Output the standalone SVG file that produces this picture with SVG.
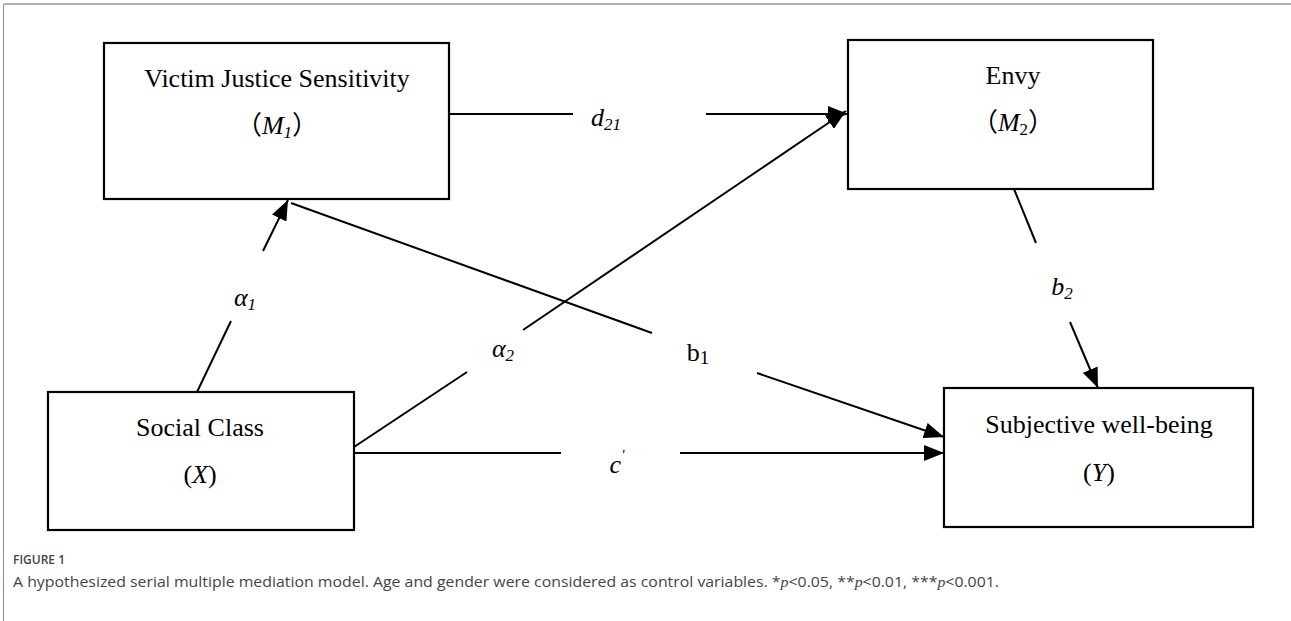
<svg xmlns="http://www.w3.org/2000/svg" width="1291" height="621" viewBox="0 0 1291 621">
<defs>
<marker id="ah" markerUnits="userSpaceOnUse" markerWidth="22" markerHeight="16" refX="20" refY="8" orient="auto">
<path d="M0,0 L20,8 L0,16 Z" fill="#000"/>
</marker>
<style>
.box{fill:#fff;stroke:#000;stroke-width:2.2}
.t{font-family:"Liberation Serif","Noto Sans CJK SC",serif;font-size:26px;fill:#000;text-anchor:middle}
.i{font-style:italic}
.c{stroke:#000;stroke-width:2;fill:none}
.cap{font-family:"Open Sans","Liberation Sans",sans-serif;fill:#444}
</style>
</defs>
<rect x="0" y="0" width="1291" height="621" fill="#fff"/>
<line x1="3.5" y1="4" x2="1291" y2="4" stroke="#999" stroke-width="1.5"/>
<line x1="3.5" y1="4" x2="3.5" y2="621" stroke="#999" stroke-width="1.2"/>

<g id="connectors">
<line class="c" x1="449" y1="114" x2="573" y2="114"/>
<line class="c" x1="706" y1="114" x2="848" y2="114" marker-end="url(#ah)"/>
<line class="c" x1="197" y1="392" x2="231" y2="321"/>
<line class="c" x1="263" y1="251" x2="288" y2="200" marker-end="url(#ah)"/>
<line class="c" x1="354" y1="447" x2="467" y2="372"/>
<line class="c" x1="523" y1="330" x2="846" y2="111" marker-end="url(#ah)"/>
<line class="c" x1="291" y1="203" x2="652" y2="333"/>
<line class="c" x1="757" y1="373" x2="944" y2="437" marker-end="url(#ah)"/>
<line class="c" x1="1014" y1="189" x2="1036" y2="243"/>
<line class="c" x1="1070" y1="322" x2="1098" y2="388" marker-end="url(#ah)"/>
<line class="c" x1="354" y1="453" x2="561" y2="453"/>
<line class="c" x1="680" y1="453" x2="944" y2="453" marker-end="url(#ah)"/>
<text class="t i" x="606" y="126">d<tspan font-size="17" dy="4">21</tspan></text>
<text class="t i" x="245" y="306">α<tspan font-size="17" dy="4">1</tspan></text>
<text class="t i" x="503" y="357">α<tspan font-size="17" dy="4">2</tspan></text>
<text class="t" x="698" y="361">b<tspan font-size="19" dy="3">1</tspan></text>
<text class="t i" x="1062" y="295">b<tspan font-size="17" dy="4">2</tspan></text>
<text class="t i" x="617" y="473">c<tspan font-size="15" dy="-13">′</tspan></text>
</g>

<g id="node-m1">
<rect class="box" x="104" y="43" width="345" height="156"/>
<text class="t" x="277" y="87">Victim Justice Sensitivity</text>
<text class="t" x="277" y="134">（<tspan class="i">M</tspan><tspan class="i" font-size="17" dy="4">1</tspan><tspan dy="-4">）</tspan></text>
</g>
<g id="node-m2">
<rect class="box" x="848" y="40" width="305" height="149"/>
<text class="t" x="1013" y="84">Envy</text>
<text class="t" x="1013" y="131">（<tspan class="i">M</tspan><tspan font-size="17" dy="4">2</tspan><tspan dy="-4">）</tspan></text>
</g>
<g id="node-x">
<rect class="box" x="48" y="392" width="306" height="138"/>
<text class="t" x="200" y="436">Social Class</text>
<text class="t" x="200" y="483">(<tspan class="i">X</tspan>)</text>
</g>
<g id="node-y">
<rect class="box" x="944" y="388" width="309" height="139"/>
<text class="t" x="1099" y="433">Subjective well-being</text>
<text class="t" x="1099" y="481">(<tspan class="i">Y</tspan>)</text>
</g>

<text class="cap" x="13" y="564" font-size="12" font-weight="600" fill="#555">FIGURE 1</text>
<text class="cap" x="13" y="587" font-size="15" textLength="986" lengthAdjust="spacingAndGlyphs">A hypothesized serial multiple mediation model. Age and gender were considered as control variables. *<tspan font-family="Liberation Serif" font-style="italic">p</tspan>&lt;0.05, **<tspan font-family="Liberation Serif" font-style="italic">p</tspan>&lt;0.01, ***<tspan font-family="Liberation Serif" font-style="italic">p</tspan>&lt;0.001.</text>
</svg>
